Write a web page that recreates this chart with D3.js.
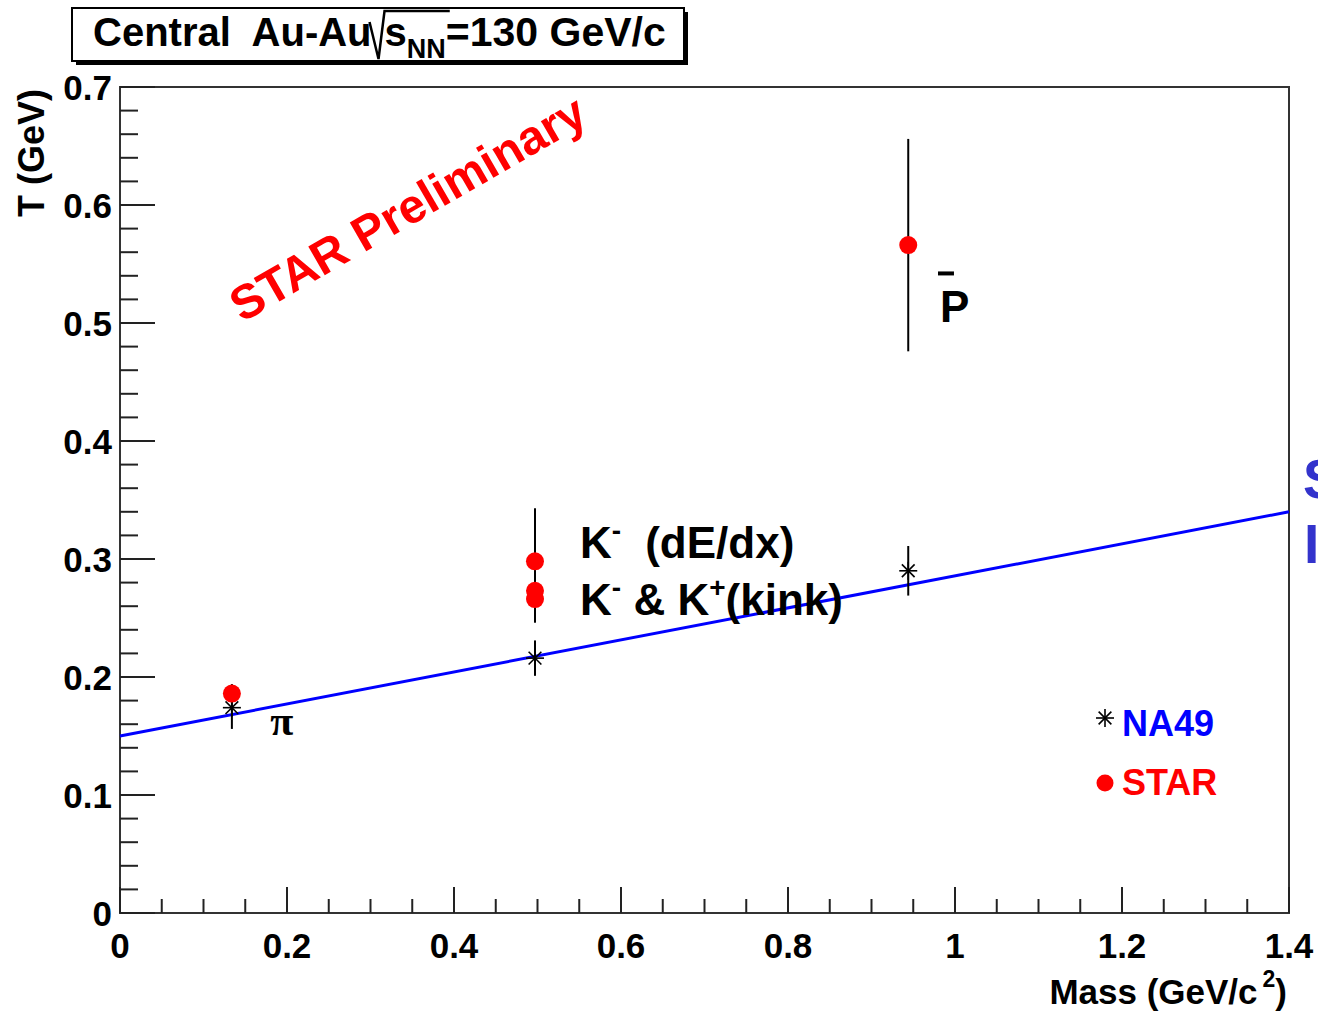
<!DOCTYPE html>
<html>
<head>
<meta charset="utf-8">
<script src="https://cdn.jsdelivr.net/npm/d3@7"></script>
<style>
body { margin: 0; background: #fff; }
text { font-family: "Liberation Sans", Arial, sans-serif; font-weight: bold; }
</style>
</head>
<body>
<div id="chart"></div>
<script>
// Canvas size
var width = 1318;
var height = 1013;

// Frame of the plot (pixels)
var frameLeft = 120, frameRight = 1289, frameTop = 87, frameBottom = 913;

// NA49 points: pi, K, pbar
var na49Mass = [0.134, 0.497, 0.944];
var na49T = [0.174, 0.216, 0.290];
var na49Err = [0.018, 0.015, 0.021];

// STAR points: pi, K- dE/dx, K- kink, K+ kink, pbar
var starMass = [0.134, 0.497, 0.497, 0.497, 0.944];
var starT = [0.186, 0.298, 0.273, 0.266, 0.566];
var starErr = [0.008, 0.045, 0.025, 0.02, 0.09];

// Linear fit T = a + b*m
var fitIntercept = 0.150;
var fitSlope = 0.1357;

// Axis ticks
var xTicks = [0, 0.2, 0.4, 0.6, 0.8, 1.0, 1.2, 1.4];
var xTickLabels = ["0", "0.2", "0.4", "0.6", "0.8", "1", "1.2", "1.4"];
var yTicks = [0, 0.1, 0.2, 0.3, 0.4, 0.5, 0.6, 0.7];
var yTickLabels = ["0", "0.1", "0.2", "0.3", "0.4", "0.5", "0.6", "0.7"];

var x = d3.scaleLinear().domain([0, 1.4]).range([frameLeft, frameRight]);
var y = d3.scaleLinear().domain([0, 0.7]).range([frameBottom, frameTop]);

var svg = d3.select("#chart")
  .append("svg")
  .attr("width", width)
  .attr("height", height);

svg.append("rect")
  .attr("width", width)
  .attr("height", height)
  .style("fill", "#fff");

// Frame
svg.append("rect")
  .attr("x", frameLeft)
  .attr("y", frameTop)
  .attr("width", frameRight - frameLeft)
  .attr("height", frameBottom - frameTop)
  .style("fill", "none")
  .style("stroke", "#333")
  .style("stroke-width", 2);

// Minor + major ticks on y
var yMinor = d3.range(0, 0.7001, 0.02);
svg.selectAll(".ytick")
  .data(yMinor)
  .enter()
  .append("line")
  .attr("x1", frameLeft)
  .attr("x2", function(d){ return frameLeft + (Math.abs(d*10 - Math.round(d*10)) < 1e-6 ? 35 : 18); })
  .attr("y1", function(d){ return y(d); })
  .attr("y2", function(d){ return y(d); })
  .style("stroke", "#222")
  .style("stroke-width", 2);

// Minor + major ticks on x
var xMinor = d3.range(0, 1.4001, 0.05);
svg.selectAll(".xtick")
  .data(xMinor)
  .enter()
  .append("line")
  .attr("x1", function(d){ return x(d); })
  .attr("x2", function(d){ return x(d); })
  .attr("y1", frameBottom)
  .attr("y2", function(d){ return frameBottom - (Math.abs(d*5 - Math.round(d*5)) < 1e-6 ? 26 : 14); })
  .style("stroke", "#222")
  .style("stroke-width", 2);

// Tick labels
svg.selectAll(".ylab")
  .data(yTicks)
  .enter()
  .append("text")
  .attr("x", frameLeft - 8)
  .attr("y", function(d){ return y(d); })
  .attr("dy", "0.36em")
  .attr("text-anchor", "end")
  .style("font-size", "35px")
  .text(function(d, i){ return yTickLabels[i]; });

svg.selectAll(".xlab")
  .data(xTicks)
  .enter()
  .append("text")
  .attr("x", function(d){ return x(d); })
  .attr("y", frameBottom + 45)
  .attr("text-anchor", "middle")
  .style("font-size", "35px")
  .text(function(d, i){ return xTickLabels[i]; });

// Axis titles
var xTitle = svg.append("text")
  .attr("x", 1287)
  .attr("y", 1004)
  .attr("text-anchor", "end")
  .style("font-size", "35px");
xTitle.append("tspan").text("Mass (GeV/c");
xTitle.append("tspan").attr("dy", -17).attr("dx", 5).style("font-size", "23px").text("2");
xTitle.append("tspan").attr("dy", 17).text(")");

svg.append("text")
  .attr("transform", "translate(44,89) rotate(-90)")
  .attr("text-anchor", "end")
  .style("font-size", "36px")
  .text("T (GeV)");

// Fit line
svg.append("line")
  .attr("x1", x(0))
  .attr("y1", y(fitIntercept))
  .attr("x2", x(1.4))
  .attr("y2", y(fitIntercept + fitSlope * 1.4))
  .style("stroke", "#0000ff")
  .style("stroke-width", 3);

// Error bars
function errorBars(mass, t, err){
  for(var i = 0; i < mass.length; i++){
    svg.append("line")
      .attr("x1", x(mass[i]))
      .attr("x2", x(mass[i]))
      .attr("y1", y(t[i] - err[i]))
      .attr("y2", y(t[i] + err[i]))
      .style("stroke", "#000")
      .style("stroke-width", 2);
  }
}
errorBars(starMass, starT, starErr);
errorBars(na49Mass, na49T, na49Err);

// Asterisk marker
function star(cx, cy, r){
  var g = svg.append("g").attr("transform", "translate(" + cx + "," + cy + ")");
  [0, 45, 90, 135].forEach(function(a){
    var rad = a * Math.PI / 180;
    g.append("line")
      .attr("x1", -r * Math.cos(rad))
      .attr("y1", -r * Math.sin(rad))
      .attr("x2", r * Math.cos(rad))
      .attr("y2", r * Math.sin(rad))
      .style("stroke", "#000")
      .style("stroke-width", 1.6);
  });
}

for(var i = 0; i < na49Mass.length; i++){
  star(x(na49Mass[i]), y(na49T[i]), 9);
}

for(var i = 0; i < starMass.length; i++){
  svg.append("circle")
    .attr("cx", x(starMass[i]))
    .attr("cy", y(starT[i]))
    .attr("r", 9)
    .style("fill", "#ff0000");
}

// Particle labels
svg.append("text")
  .attr("x", x(0.18))
  .attr("y", y(0.151))
  .style("font-family", "'Liberation Serif', serif")
  .style("font-size", "42px")
  .text("π");

var k1 = svg.append("text")
  .attr("x", x(0.551))
  .attr("y", y(0.301))
  .style("font-size", "44px");
k1.append("tspan").text("K");
k1.append("tspan").attr("dy", -18).style("font-size", "28px").text("-");
k1.append("tspan").attr("dy", 18).attr("dx", 24).text("(dE/dx)");

var k2 = svg.append("text")
  .attr("x", x(0.551))
  .attr("y", y(0.2525))
  .style("font-size", "44px");
k2.append("tspan").text("K");
k2.append("tspan").attr("dy", -18).style("font-size", "28px").text("-");
k2.append("tspan").attr("dy", 18).text(" & K");
k2.append("tspan").attr("dy", -18).style("font-size", "28px").text("+");
k2.append("tspan").attr("dy", 18).text("(kink)");

svg.append("text")
  .attr("x", x(0.982))
  .attr("y", y(0.501))
  .style("font-size", "44px")
  .text("P");
svg.append("line")
  .attr("x1", x(0.982) - 2)
  .attr("x2", x(0.982) + 14)
  .attr("y1", y(0.542))
  .attr("y2", y(0.542))
  .style("stroke", "#000")
  .style("stroke-width", 4);

// STAR Preliminary
svg.append("text")
  .attr("transform", "translate(" + x(0.146) + "," + y(0.5) + ") rotate(-30)")
  .style("font-size", "48px")
  .style("fill", "#ff0000")
  .text("STAR Preliminary");

// Legend
star(1105, 718, 9);
svg.append("text")
  .attr("x", 1122)
  .attr("y", 736)
  .style("font-size", "36px")
  .style("fill", "#0000ff")
  .text("NA49");
svg.append("circle")
  .attr("cx", 1105)
  .attr("cy", 783)
  .attr("r", 8.5)
  .style("fill", "#ff0000");
svg.append("text")
  .attr("x", 1122)
  .attr("y", 795)
  .style("font-size", "36px")
  .style("fill", "#ff0000")
  .text("STAR");

// Cut-off text on the right edge
svg.append("text")
  .attr("x", 1303)
  .attr("y", 498)
  .style("font-size", "55px")
  .style("fill", "#3333cc")
  .text("S");
svg.append("text")
  .attr("x", 1304)
  .attr("y", 563)
  .style("font-size", "55px")
  .style("fill", "#3333cc")
  .text("I");

// Title box with shadow
svg.append("rect")
  .attr("x", 76).attr("y", 12).attr("width", 612).attr("height", 53)
  .style("fill", "#000");
svg.append("rect")
  .attr("x", 72).attr("y", 8).attr("width", 612).attr("height", 53)
  .style("fill", "#fff")
  .style("stroke", "#000")
  .style("stroke-width", 2);

var t1 = svg.append("text")
  .attr("x", 93).attr("y", 46)
  .attr("xml:space", "preserve")
  .style("font-size", "40px")
  .text("Central  Au-Au");
var pos = 93 + t1.node().getComputedTextLength() - 2;
var sqrtStart = pos;
var ts = svg.append("text")
  .attr("x", pos + 15).attr("y", 46)
  .style("font-size", "40px")
  .text("s");
pos = pos + 15 + ts.node().getComputedTextLength();
var tn = svg.append("text")
  .attr("x", pos).attr("y", 58)
  .style("font-size", "27px")
  .text("NN");
pos = pos + tn.node().getComputedTextLength();
var sqrtEnd = pos + 4;
svg.append("path")
  .attr("d", "M" + sqrtStart + ",22 L" + (sqrtStart + 9) + ",59 L" + (sqrtStart + 15) + ",11 L" + sqrtEnd + ",11")
  .style("fill", "none")
  .style("stroke", "#000")
  .style("stroke-width", 2.5);
svg.append("text")
  .attr("x", pos).attr("y", 46)
  .style("font-size", "41px")
  .text("=130 GeV/c");
</script>
</body>
</html>
